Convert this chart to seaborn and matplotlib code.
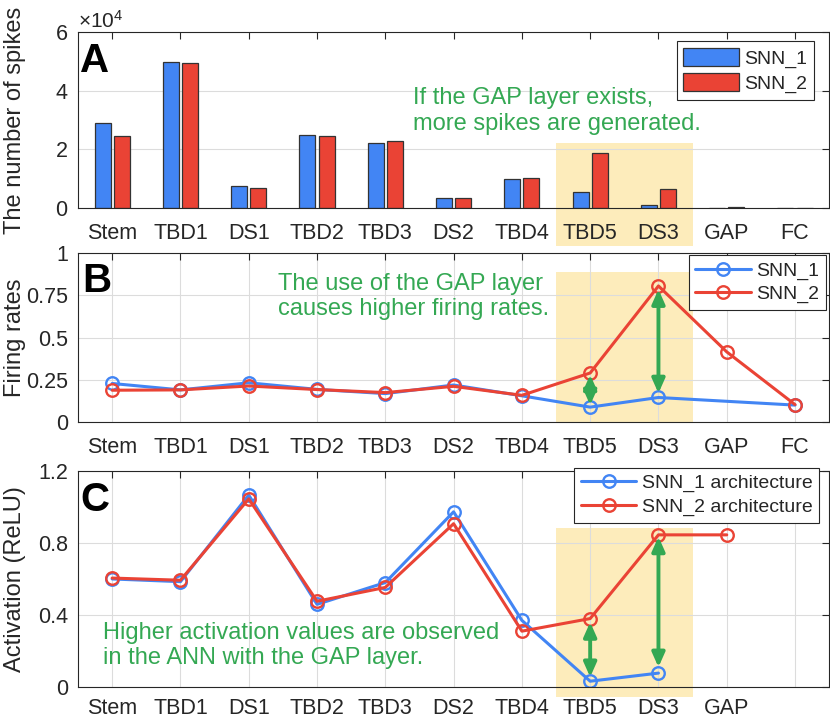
import numpy as np
import pandas as pd
import matplotlib
matplotlib.use("Agg")
import matplotlib.pyplot as plt
from matplotlib.patches import Rectangle
import seaborn as sns

# ---------------- data ----------------
layers = ["Stem", "TBD1", "DS1", "TBD2", "TBD3", "DS2", "TBD4", "TBD5", "DS3", "GAP", "FC"]
layers_c = ["Stem", "TBD1", "DS1", "TBD2", "TBD3", "DS2", "TBD4", "TBD5", "DS3", "GAP"]

spikes_snn1 = [29000, 49700, 7400, 24900, 22000, 3400, 9900, 5600, 900, 100, 50]
spikes_snn2 = [24500, 49300, 6900, 24400, 23000, 3300, 10100, 18600, 6400, 250, 100]

fr_snn1 = [0.228, 0.19, 0.232, 0.193, 0.168, 0.219, 0.155, 0.088, 0.145, np.nan, 0.100]
fr_snn2 = [0.188, 0.19, 0.213, 0.192, 0.174, 0.211, 0.158, 0.290, 0.805, 0.415, 0.103]

act_snn1 = [0.600, 0.585, 1.066, 0.459, 0.580, 0.973, 0.370, 0.032, 0.077, np.nan]
act_snn2 = [0.605, 0.593, 1.045, 0.476, 0.553, 0.907, 0.310, 0.380, 0.845, 0.845]

text_a = "If the GAP layer exists,\nmore spikes are generated."
text_b = "The use of the GAP layer\ncauses higher firing rates."
text_c = "Higher activation values are observed\nin the ANN with the GAP layer."

# ---------------- style ----------------
BLUE = "#4285F4"
RED = "#EA4335"
GREEN = "#34A853"
SHADE = "#FBBC05"
DARK = "#262626"

sns.set_style("white")
plt.rcParams["font.family"] = ["Liberation Sans", "DejaVu Sans"]
plt.rcParams["mathtext.fontset"] = "custom"
plt.rcParams["mathtext.rm"] = "Liberation Sans"
plt.rcParams["axes.edgecolor"] = DARK
plt.rcParams["axes.linewidth"] = 0.8

TICK_FS = 15.5
LAB_FS = 17
LEG_FS = 14
TXT_FS = 17
LET_FS = 29

fig = plt.figure(figsize=(8.3, 7.21), dpi=100)
axA = fig.add_axes([0.094, 0.7115, 0.905, 0.2441])
axB = fig.add_axes([0.094, 0.4147, 0.905, 0.2344])
axC = fig.add_axes([0.094, 0.0472, 0.905, 0.2996])


def style_axes(ax, xpad=11):
    ax.set_axisbelow(True)
    ax.grid(True, color="#DCDCDC", lw=0.8)
    ax.tick_params(direction="in", top=True, right=True, length=5, width=0.8,
                   colors=DARK, labelsize=TICK_FS)
    ax.tick_params(axis="x", pad=xpad)
    ax.tick_params(axis="y", pad=7)
    for s in ax.spines.values():
        s.set_visible(True)
        s.set_color(DARK)
        s.set_linewidth(0.8)
        s.set_zorder(5)


def shade(ax, y0, y1):
    ax.add_patch(Rectangle((6.5, y0), 2.0, y1 - y0, facecolor=SHADE, alpha=0.27,
                           edgecolor="none", clip_on=False, zorder=0.3))


def arrow(ax, x, y0, y1):
    ax.annotate("", xy=(x, y1), xytext=(x, y0),
                arrowprops=dict(arrowstyle="<|-|>,head_length=0.45,head_width=0.2",
                                color=GREEN, lw=2.8, mutation_scale=19,
                                shrinkA=0, shrinkB=0), zorder=6)


# ---------------- panel A ----------------
dfA = pd.DataFrame({
    "layer": layers * 2,
    "spikes": spikes_snn1 + spikes_snn2,
    "model": ["SNN_1"] * len(layers) + ["SNN_2"] * len(layers),
})
style_axes(axA)
sns.barplot(data=dfA, x="layer", y="spikes", hue="model", order=layers,
            palette=[BLUE, RED], width=0.56, gap=0.16, errorbar=None,
            edgecolor="#333333", linewidth=0.9, saturation=1, ax=axA, zorder=3)
axA.set_xlim(-0.5, 10.5)
axA.set_ylim(0, 60000)
axA.set_yticks([0, 20000, 40000, 60000])
axA.ticklabel_format(axis="y", style="sci", scilimits=(0, 0), useMathText=True)
axA.yaxis.get_offset_text().set_fontsize(15)
axA.yaxis.get_offset_text().set_color(DARK)
axA.set_xlabel("")
axA.set_ylabel("The number of spikes", fontsize=LAB_FS, color=DARK)
shade(axA, -13000, 22000)
axA.text(4.41, 33100, text_a, color=GREEN, fontsize=TXT_FS, ha="left", va="center")
axA.text(0.003, 0.773, "A", transform=axA.transAxes, fontsize=LET_FS,
         fontweight="bold", color="black", ha="left", va="baseline")
hA, lA = axA.get_legend_handles_labels()
legA = axA.legend(hA, lA, loc="upper right", bbox_to_anchor=(0.98, 0.949),
                  borderaxespad=0, fontsize=LEG_FS, handlelength=2.83,
                  handleheight=1.03, labelspacing=0.3, handletextpad=0.3,
                  borderpad=0.35, fancybox=False, framealpha=1, edgecolor=DARK)
legA.get_frame().set_linewidth(0.8)

# ---------------- panel B ----------------
xB = np.arange(len(layers))
style_axes(axB)
shade(axB, 0, 0.89)
line_kw = dict(marker="o", markersize=9, markerfacecolor="none",
               markeredgewidth=1.7, lw=2.2, zorder=4)
sns.lineplot(x=xB, y=fr_snn1, color=BLUE, markeredgecolor=BLUE, label="SNN_1",
             ax=axB, **line_kw)
sns.lineplot(x=xB, y=fr_snn2, color=RED, markeredgecolor=RED, label="SNN_2",
             ax=axB, **line_kw)
axB.set_xlim(-0.5, 10.5)
axB.set_ylim(0, 1)
axB.set_xticks(xB)
axB.set_xticklabels(layers)
axB.set_yticks([0, 0.25, 0.5, 0.75, 1])
axB.set_yticklabels(["0", "0.25", "0.5", "0.75", "1"])
axB.set_ylabel("Firing rates", fontsize=LAB_FS, color=DARK)
arrow(axB, 7, 0.10, 0.28)
arrow(axB, 8, 0.17, 0.785)
axB.text(2.43, 0.743, text_b, color=GREEN, fontsize=TXT_FS, ha="left", va="center")
axB.text(0.006, 0.769, "B", transform=axB.transAxes, fontsize=LET_FS,
         fontweight="bold", color="black", ha="left", va="baseline")
legB = axB.legend(loc="upper right", bbox_to_anchor=(0.996, 0.988),
                  borderaxespad=0, fontsize=LEG_FS, handlelength=2.83,
                  labelspacing=0.3, handletextpad=0.3, borderpad=0.35,
                  fancybox=False, framealpha=1, edgecolor=DARK)
legB.get_frame().set_linewidth(0.8)

# ---------------- panel C ----------------
xC = np.arange(len(layers_c))
style_axes(axC, xpad=8)
shade(axC, -0.055, 0.885)
sns.lineplot(x=xC, y=act_snn1, color=BLUE, markeredgecolor=BLUE,
             label="SNN_1 architecture", ax=axC, **line_kw)
sns.lineplot(x=xC, y=act_snn2, color=RED, markeredgecolor=RED,
             label="SNN_2 architecture", ax=axC, **line_kw)
axC.set_xlim(-0.5, 10.5)
axC.set_ylim(0, 1.2)
axC.set_xticks(np.arange(len(layers)))
axC.set_xticklabels(layers_c + [""])
axC.set_yticks([0, 0.4, 0.8, 1.2])
axC.set_yticklabels(["0", "0.4", "0.8", "1.2"])
axC.set_ylabel("Activation (ReLU)", fontsize=LAB_FS, color=DARK)
arrow(axC, 7, 0.055, 0.36)
arrow(axC, 8, 0.11, 0.835)
axC.text(-0.13, 0.232, text_c, color=GREEN, fontsize=TXT_FS, ha="left", va="center")
axC.text(0.003, 0.816, "C", transform=axC.transAxes, fontsize=LET_FS,
         fontweight="bold", color="black", ha="left", va="baseline")
legC = axC.legend(loc="upper right", bbox_to_anchor=(0.987, 1.015),
                  borderaxespad=0, fontsize=LEG_FS, handlelength=2.83,
                  labelspacing=0.3, handletextpad=0.3, borderpad=0.35,
                  fancybox=False, framealpha=1, edgecolor=DARK)
legC.get_frame().set_linewidth(0.8)

for ax in (axA, axB, axC):
    ax.yaxis.set_label_coords(-0.069, 0.5)

fig.savefig("out.png", dpi=100)
